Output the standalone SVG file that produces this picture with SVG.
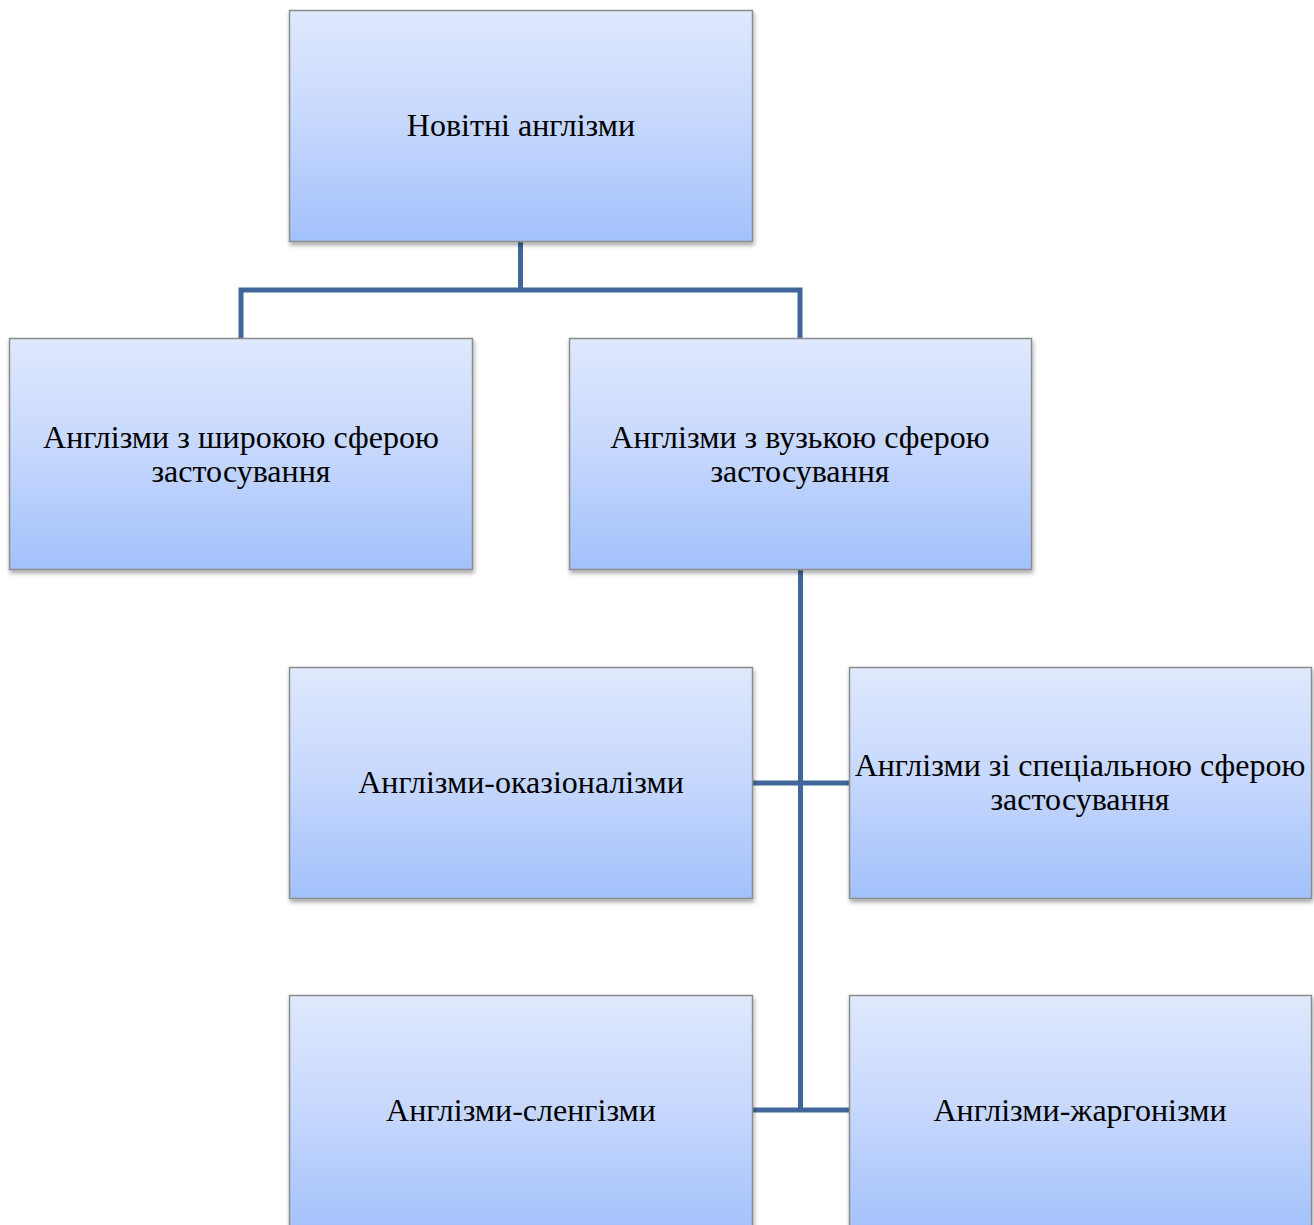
<svg xmlns="http://www.w3.org/2000/svg" width="1314" height="1225" viewBox="0 0 1314 1225">
<defs>
<linearGradient id="g" x1="0" y1="0" x2="0" y2="1">
<stop offset="0" stop-color="#dfe9fd"/>
<stop offset="0.5" stop-color="#c5d7fd"/>
<stop offset="1" stop-color="#a2c1fb"/>
</linearGradient>
<filter id="sh" x="-5%" y="-5%" width="110%" height="115%">
<feGaussianBlur in="SourceAlpha" stdDeviation="2"/>
<feOffset dx="1" dy="3" result="b"/>
<feComponentTransfer><feFuncA type="linear" slope="0.35"/></feComponentTransfer>
<feMerge><feMergeNode/><feMergeNode in="SourceGraphic"/></feMerge>
</filter>
</defs>
<style>
.box{fill:url(#g);stroke:#8c8c8c;stroke-width:1.5;filter:url(#sh)}
.t{font-family:"Liberation Serif","Times New Roman",serif;font-size:32px;fill:#000;text-anchor:middle}
.c{fill:none;stroke:#41679a;stroke-width:5}
</style>
<rect width="1314" height="1225" fill="#fff"/>
<g id="connectors">
<path class="c" d="M520.5 242 V290 M241 338 V290 H800 V338"/>
<path class="c" d="M800.5 570 V1110 M752 783 H849 M752 1110 H849"/>
</g>
<g id="n1"><rect class="box" x="289.5" y="10.5" width="463" height="231"/><text class="t" x="521" y="136">Новітні англізми</text></g>
<g id="n2"><rect class="box" x="9.5" y="338.5" width="463" height="231"/><text class="t" x="241" y="448">Англізми з широкою сферою</text><text class="t" x="241" y="482">застосування</text></g>
<g id="n3"><rect class="box" x="569.5" y="338.5" width="462" height="231"/><text class="t" x="800" y="448">Англізми з вузькою сферою</text><text class="t" x="800" y="482">застосування</text></g>
<g id="n4"><rect class="box" x="289.5" y="667.5" width="463" height="231"/><text class="t" x="521" y="793">Англізми-оказіоналізми</text></g>
<g id="n5"><rect class="box" x="849.5" y="667.5" width="462" height="231"/><text class="t" x="1080" y="776">Англізми зі спеціальною сферою</text><text class="t" x="1080" y="810">застосування</text></g>
<g id="n6"><rect class="box" x="289.5" y="995.5" width="463" height="240"/><text class="t" x="521" y="1121">Англізми-сленгізми</text></g>
<g id="n7"><rect class="box" x="849.5" y="995.5" width="462" height="240"/><text class="t" x="1080" y="1121">Англізми-жаргонізми</text></g>
</svg>
